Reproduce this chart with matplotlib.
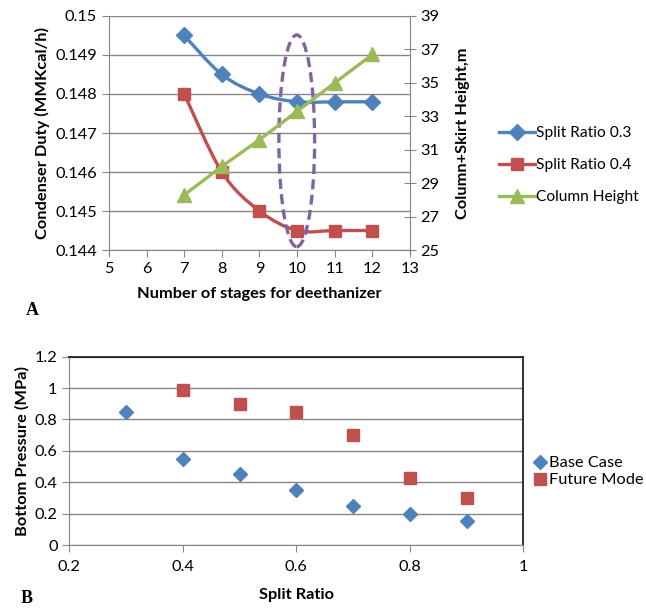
import matplotlib
matplotlib.use("Agg")
import matplotlib.pyplot as plt
import numpy as np
from matplotlib.path import Path
from matplotlib.patches import PathPatch, Ellipse
from matplotlib.lines import Line2D

plt.rcParams['font.family'] = ['Lato', 'DejaVu Sans']

# ---- data, chart A ----
stages = [7, 8, 9, 10, 11, 12]
split_03 = [0.1495, 0.1485, 0.1480, 0.1478, 0.1478, 0.1478]
split_04 = [0.1480, 0.1460, 0.1450, 0.1445, 0.1445, 0.1445]
col_height = [28.3, 30.0, 31.6, 33.3, 35.0, 36.7]

# ---- data, chart B ----
base_x = [0.3, 0.4, 0.5, 0.6, 0.7, 0.8, 0.9]
base_p = [0.85, 0.55, 0.45, 0.35, 0.25, 0.20, 0.15]
future_x = [0.4, 0.5, 0.6, 0.7, 0.8, 0.9]
future_p = [0.99, 0.90, 0.85, 0.70, 0.43, 0.30]

BLUE = "#4F81BD"
RED = "#C0504D"
GREEN = "#9BBB59"
PURPLE = "#8064A2"
GRID = "#868686"
FS = 11.8


def smooth_path(x, y):
    # Excel-like smoothed line: Catmull-Rom segments as cubic Beziers
    p = np.column_stack([x, y]).astype(float)
    n = len(p)
    verts = [p[0]]
    codes = [Path.MOVETO]
    for i in range(n - 1):
        prev = p[i - 1] if i > 0 else p[i]
        nxt = p[i + 2] if i + 2 < n else p[i + 1]
        c1 = p[i] + (p[i + 1] - prev) / 6
        c2 = p[i + 1] - (nxt - p[i]) / 6
        verts += [c1, c2, p[i + 1]]
        codes += [Path.CURVE4] * 3
    return Path(verts, codes)


fig = plt.figure(figsize=(6.46, 6.08), dpi=100)

# ================= chart A =================
ax = fig.add_axes([0.1687, 0.5888, 0.466, 0.3849])
ax2 = ax.twinx()

ax.set_xlim(5, 13)
ax.set_ylim(0.144, 0.150)
ax.set_yticks(np.arange(0.144, 0.1501, 0.001))
ax.set_yticklabels(["0.144", "0.145", "0.146", "0.147", "0.148", "0.149", "0.15"])
ax.set_xticks(range(5, 14))
ax.grid(axis="y", color=GRID, lw=1)
ax.set_axisbelow(True)

for s in ["top", "right"]:
    ax.spines[s].set_visible(False)
for s in ["left", "bottom"]:
    ax.spines[s].set_color(GRID)
ax.tick_params(axis="both", colors=GRID, labelcolor="black", labelsize=FS, length=5)

ax.add_patch(PathPatch(smooth_path(stages, split_03), fill=False, edgecolor=BLUE, lw=2.4, zorder=3))
ax.plot(stages, split_03, ls="none", marker="D", ms=8, color=BLUE, zorder=4)
ax.add_patch(PathPatch(smooth_path(stages, split_04), fill=False, edgecolor=RED, lw=2.4, zorder=3))
ax.plot(stages, split_04, ls="none", marker="s", ms=9, color=RED, zorder=4)

ax.add_patch(Ellipse((9.99, 0.14680), 0.95, 0.00543, fill=False, edgecolor=PURPLE,
                     lw=2.4, ls=(0, (3, 1.6)), zorder=5))

ax2.set_ylim(25, 39)
ax2.set_yticks(range(25, 40, 2))
for s in ["top", "left", "bottom"]:
    ax2.spines[s].set_visible(False)
ax2.spines["right"].set_color(GRID)
ax2.tick_params(axis="y", colors=GRID, labelcolor="black", labelsize=FS,
                direction="inout", length=8)
ax2.plot(stages, col_height, color=GREEN, lw=2.4, marker="^", ms=10, zorder=4)

ax.set_ylabel("Condenser Duty (MMKcal/h)", fontsize=FS, fontweight="bold", labelpad=4)
ax2.set_ylabel("Column+Skirt Height,m", fontsize=FS, fontweight="bold", labelpad=12)
ax.set_xlabel("Number of stages for deethanizer", fontsize=FS, fontweight="bold", labelpad=8)

handles_a = [
    Line2D([], [], color=BLUE, lw=2.4, marker="D", ms=8),
    Line2D([], [], color=RED, lw=2.4, marker="s", ms=9),
    Line2D([], [], color=GREEN, lw=2.4, marker="^", ms=10),
]
fig.legend(handles_a, ["Split Ratio 0.3", "Split Ratio 0.4", "Column Height"],
           loc="center left", bbox_to_anchor=(0.773, 0.728), frameon=False,
           fontsize=11.2, handlelength=2.3, handletextpad=0.05, labelspacing=1.15,
           borderaxespad=0.0, borderpad=0.0)

fig.text(0.05, 0.49, "A", fontsize=13, fontweight="bold", family="Liberation Serif",
         ha="center", va="center")

# ================= chart B =================
bx = fig.add_axes([0.1073, 0.1036, 0.7027, 0.3097])
bx.set_xlim(0.2, 1.0)
bx.set_ylim(0, 1.2)
bx.set_xticks([0.2, 0.4, 0.6, 0.8, 1.0])
bx.set_xticklabels(["0.2", "0.4", "0.6", "0.8", "1"])
bx.set_yticks([0, 0.2, 0.4, 0.6, 0.8, 1.0, 1.2])
bx.set_yticklabels(["0", "0.2", "0.4", "0.6", "0.8", "1", "1.2"])
bx.grid(axis="y", color=GRID, lw=1)
bx.set_axisbelow(True)
bx.spines["left"].set_color(GRID)
bx.spines["bottom"].set_color(GRID)
bx.spines["top"].set_color("#222222")
bx.spines["right"].set_color("#222222")
bx.spines["top"].set_linewidth(1.3)
bx.spines["right"].set_linewidth(1.3)
bx.tick_params(axis="both", colors=GRID, labelcolor="black", labelsize=FS, length=5)
bx.tick_params(axis="x", pad=6)

bx.plot(base_x, base_p, ls="none", marker="D", ms=7, color=BLUE, label="Base Case")
bx.plot(future_x, future_p, ls="none", marker="s", ms=8, color=RED, label="Future Mode")

bx.set_ylabel("Bottom Pressure (MPa)", fontsize=FS, fontweight="bold", labelpad=4)
bx.set_xlabel("Split Ratio", fontsize=FS, fontweight="bold", labelpad=10)
bx.legend(loc="center left", bbox_to_anchor=(1.0, 0.39), frameon=False, fontsize=FS,
          handlelength=0.8, handletextpad=0.2, labelspacing=0.15, borderaxespad=0.2)

fig.text(0.042, 0.002, "B", fontsize=13, fontweight="bold", family="Liberation Serif",
         ha="center", va="bottom")

fig.savefig("out.png", dpi=100)
